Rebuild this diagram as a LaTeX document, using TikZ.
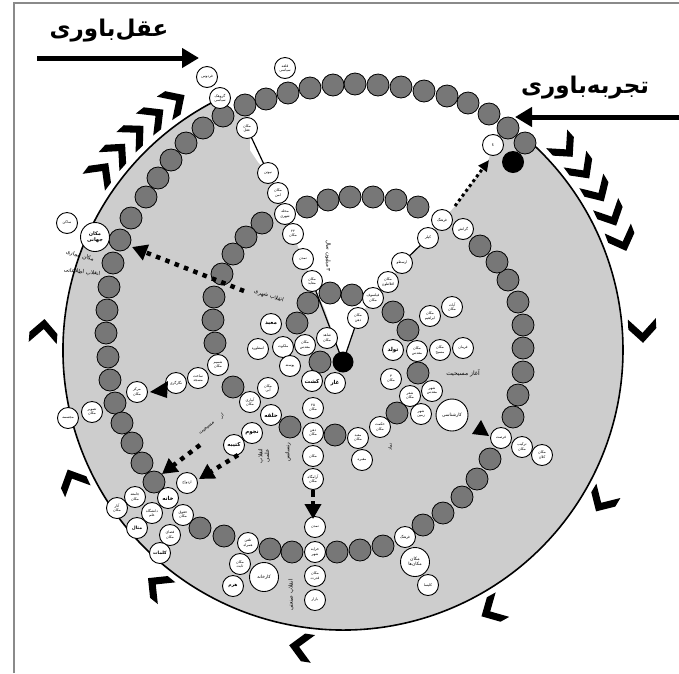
\documentclass[tikz,border=0pt]{standalone}
\usepackage{fontspec}
\newfontfamily\arfont[Script=Arabic]{DejaVu Sans}
\TeXXeTstate=1
\usetikzlibrary{arrows.meta}
\pgfdeclarelayer{back}
\pgfdeclarelayer{lines}
\pgfsetlayers{back,lines,main}
\definecolor{diskgray}{HTML}{CDCDCD}
\definecolor{beadgray}{HTML}{777777}
\definecolor{framegray}{HTML}{8A8A8A}
\newcommand\fa[1]{\beginR#1\endR}
\newcommand\fb[2]{\beginR#1\endR\\\beginR#2\endR}
\begin{document}
\begin{tikzpicture}[x=1pt,y=-1pt,
  bead/.style={circle,draw=black,line width=0.8pt,fill=beadgray,minimum size=22pt,inner sep=0pt},
  wc/.style={circle,draw=black,line width=0.9pt,fill=white,minimum size=21pt,inner sep=0pt,align=center,font=\arfont\fontsize{3.6}{4.2}\selectfont},
  wcb/.style={wc,font=\arfont\bfseries\fontsize{5.5}{6}\selectfont},
  wcl/.style={wc,minimum size=29pt,font=\arfont\fontsize{4.5}{5.2}\selectfont},
  lbl/.style={font=\arfont\fontsize{5.5}{6.5}\selectfont,inner sep=0pt,align=center},
  dotarrow/.style={line width=4.5pt,dash pattern=on 4.5pt off 5.5pt,-{Triangle[length=15pt,width=16pt]}},
  bigarrow/.style={line width=5pt,-{Triangle[length=17pt,width=19pt]}},
  spoke/.style={line width=1.2pt},
  blackdot/.style={circle,fill=black,minimum size=21pt,inner sep=0pt},
  title/.style={font=\arfont\bfseries\fontsize{23}{23}\selectfont,inner sep=0pt}]
\useasboundingbox (0,0) rectangle (679,673);

% frame
\draw[framegray,line width=1.5pt] (14,673) -- (14,3) -- (679,3);

% disk and white wedge
\begin{pgfonlayer}{back}
\fill[diskgray] (343,350) ++(242.2:280) arc[start angle=242.2,end angle=-46.9,radius=280]
  -- (525,143) -- (508,128) -- (489,114) -- (468,103) -- (447,96) -- (424,91) -- (401,87)
  -- (378,85) -- (355,84) -- (333,85) -- (310,88) -- (288,93) -- (266,99) -- (245,105) -- (223,116) -- cycle;
\fill[white] (250,100) -- (266,99) -- (288,93) -- (310,88) -- (333,85) -- (355,84) -- (378,85)
  -- (401,87) -- (424,91) -- (447,96) -- (468,103) -- (489,114) -- (500,125) -- (493,145)
  -- (488,161) -- (455,206) -- (442,220) -- (428,238) -- (402,263) -- (388,282) -- (373,298)
  -- (358,318) -- (343,362) -- (325,310) -- (312,281) -- (303,259) -- (293,234) -- (285,214)
  -- (278,193) -- (268,173) -- (258,162) -- (250,150) -- cycle;
\draw[line width=1.6pt] (343,350) ++(242.2:280) arc[start angle=242.2,end angle=-46.9,radius=280];
\end{pgfonlayer}

% chevrons
\foreach \t in {-143,-138.1,-133.2,-128.3,-123.4,-41.6,-36.4,-31.2,-26,-20.8,184.4,155,129,98.8,61,31,-2.9}
  \fill[shift={({343+300*cos(\t)},{350+300*sin(\t)})},rotate={-90-(\t)}]
    (-16,-14) -- (-6,-14) -- (8,0) -- (-6,14) -- (-16,14) -- (-2,0) -- cycle;

% titles and their arrows
\node[title] (t1) at (109,31) {\fa{عقل‌باوری}};
\node[title] (t2) at (585,88) {\fa{تجربه‌باوری}};
\coordinate (a1s) at (37,58); \coordinate (a1e) at (199,58);
\coordinate (a2s) at (679,117); \coordinate (a2e) at (515,117);
\draw[bigarrow] (a1s) -- (a1e);
\draw[bigarrow] (a2s) -- (a2e);

% spiral of beads
\foreach \p [count=\i] in {(525,143),(508,128),(489,114),(468,103),(447,96),(424,91),(401,87),(378,85),
  (355,84),(333,85),(310,88),(288,93),(266,99),(245,105),(223,116),(203,128),(186,143),(171,160),
  (158,178),(146,197),(131,218),(120,240),(113,263),(109,287),(107,310),(106,333),(108,357),(110,380),
  (115,403),(122,423),(132,443),(142,463),(154,482),(200,528),(224,536),(270,549),(292,552),(337,552),
  (360,550),(383,546),(423,525),(443,513),(462,497),(477,479),(490,459),(513,417),(518,395),(523,372),
  (523,348),(523,325),(518,302),(508,280),(497,262),(480,246),(418,207),(396,200),(373,197),(350,197),
  (328,200),(307,207),(262,223),(246,237),(233,254),(222,274),(214,297),(213,320),(215,343),(233,387),
  (290,427),(335,435),(397,413),(418,373),(408,330),(393,312),(352,295),(330,293),(308,303),(297,323),
  (320,362)}
  \node[bead] (b\i) at \p {};

\node[blackdot] (dot) at (343,362) {};
\node[blackdot,minimum size=22pt] (dot2) at (513,162) {};

% top and left spoke
\node[wc] (A1) at (207,77) {\fa{فردوس}};
\node[wc] (A2) at (220,98) {\fb{گروهک}{سیاسی}};
\node[wc] (A3) at (285,68) {\fb{قلعه}{سیاسی}};
\node[wc] (A4) at (247,128) {\fb{مکان}{عقل}};
\node[wc] (A5) at (268,173) {\fa{نیوتن}};
\node[wc] (A6) at (278,193) {\fb{مکان}{امن}};
\node[wc] (A7) at (285,214) {\fb{محله}{شهری}};
\node[wc] (A8) at (293,234) {\fb{۲۲}{مکان}};
\node[wc] (A9) at (303,259) {\fa{تمدن}};
\node[wc] (A10) at (312,281) {\fb{مکان}{معابد}};
% right spoke
\node[wc] (R1) at (493,145) {\fa{ع}};
\node[wc] (R2) at (442,220) {\fa{فرهنگ}};
\node[wc] (R3) at (463,229) {\fa{گرانش}};
\node[wc] (R4) at (428,238) {\fa{کپلر}};
\node[wc] (R5) at (402,263) {\fa{ارسطو}};
\node[wc] (R6) at (388,282) {\fb{مکان}{افلاطون}};
\node[wc] (R7) at (373,298) {\fb{فیلسوف}{مکان}};
\node[wc] (R8) at (358,318) {\fb{مکان}{ذهن}};
% centre
\node[wcb] (C1) at (271,324) {\fa{معبد}};
\node[wc] (C2) at (258,349) {\fa{اسطوره}};
\node[wc] (C3) at (283,347) {\fa{ملکوت}};
\node[wc] (C4) at (305,345) {\fb{مکان}{مقدس}};
\node[wc] (C5) at (327,338) {\fb{شاهد}{مکان}};
\node[wc] (C6) at (290,366) {\fa{پوسته}};
\node[wcb] (C7) at (312,381) {\fa{کشت}};
\node[wcb] (C8) at (335,383) {\fa{غار}};
\node[wc] (C9) at (268,388) {\fb{مکان}{آبی}};
\node[wc] (C10) at (250,402) {\fb{آبیاری}{مکان}};
\node[wcb] (C11) at (271,415) {\fa{حلقه}};
\node[wcb] (C12) at (252,433) {\fa{نجوم}};
\node[wcb] (C13) at (234,445) {\fa{کتیبه}};
\node[wc] (C14) at (218,365) {\fb{شمیم}{مکان}};
\node[wc] (C15) at (198,378) {\fb{ساخت}{مسجد}};
\node[wc] (C16) at (176,383) {\fa{نگارگری}};
\node[wc] (C17) at (137,392) {\fb{مرکز}{مکان}};
\node[wc] (C18) at (92,412) {\fb{تصویر}{مکان}};
\node[wc] (C19) at (68,418) {\fa{مجسمه}};
% left
\node[wc] (L1) at (67,223) {\fa{ساکن}};
\node[wcl,font=\arfont\bfseries\fontsize{5}{6}\selectfont] (L2) at (95,237) {\fb{مکان}{جهانی}};
% column
\node[wc] (D1) at (313,408) {\fb{۲۵}{مکان}};
\node[wc] (D2) at (313,433) {\fb{ذهن}{مکان}};
\node[wc] (D3) at (313,456) {\fa{مکان}};
\node[wc] (D4) at (313,479) {\fb{آرامگاه}{مکان}};
\node[wc] (D5) at (315,527) {\fa{تمدن}};
\node[wc] (D6) at (315,552) {\fb{خرابه}{شهر}};
\node[wc] (D7) at (315,576) {\fb{مکان}{قدرت}};
\node[wc] (D8) at (315,600) {\fa{بازار}};
% right centre
\node[wcb] (E1) at (393,350) {\fa{تولد}};
\node[wc] (E2) at (417,351) {\fb{مکان}{مقدس}};
\node[wc] (E3) at (440,350) {\fb{مکان}{مسیح}};
\node[wc] (E4) at (463,348) {\fa{فرمان}};
\node[wc] (E5) at (430,316) {\fb{مکان}{ابراهیم}};
\node[wc] (E6) at (452,307) {\fb{آیات}{مکان}};
\node[wc] (E7) at (391,379) {\fb{۳}{مکان}};
\node[wc] (E8) at (410,396) {\fb{شعر}{مکان}};
\node[wc] (E9) at (432,391) {\fb{شهر}{مقدس}};
\node[wc] (E10) at (421,414) {\fb{شهر}{زمین}};
\node[wc,minimum size=32pt,font=\arfont\fontsize{4.5}{5}\selectfont] (E11) at (452,415) {\fa{کارشناسی}};
\node[wc] (E12) at (380,427) {\fb{حکمت}{مکان}};
\node[wc] (E13) at (358,438) {\fb{معبد}{مکان}};
\node[wc] (E14) at (362,460) {\fa{مقبره}};
% right
\node[wc] (F1) at (501,438) {\fa{فرصت}};
\node[wc] (F2) at (522,447) {\fb{ترکیب}{مکان}};
\node[wc] (F3) at (542,455) {\fb{مکان}{کلان}};
% bottom
\node[wc] (G1) at (248,543) {\fb{تلفن}{همراه}};
\node[wc] (G2) at (240,564) {\fb{مکان}{ثابت}};
\node[wcl] (G3) at (264,577) {\fa{کارخانه}};
\node[wcb,font=\arfont\bfseries\fontsize{4.5}{5}\selectfont] (G4) at (233,586) {\fa{هرم}};
\node[wc] (G5) at (405,537) {\fa{فرهنگ}};
\node[wcl] (G6) at (415,562) {\fb{مکان}{مکان‌ها}};
\node[wc] (G7) at (428,585) {\fa{کلیسا}};
% bottom left
\node[wc] (H1) at (187,483) {\fa{ازدواج}};
\node[wcb] (H2) at (168,498) {\fa{خانه}};
\node[wc] (H3) at (135,497) {\fb{جامعه}{مکان}};
\node[wc] (H4) at (117,508) {\fb{آثار}{مکان}};
\node[wc] (H5) at (152,513) {\fb{دانشگاه}{علم}};
\node[wc] (H6) at (183,515) {\fb{حقوق}{مکان}};
\node[wcb,font=\arfont\bfseries\fontsize{4.5}{5}\selectfont] (H7) at (137,528) {\fa{مثال}};
\node[wc] (H8) at (170,535) {\fb{فضای}{مکان}};
\node[wcb,font=\arfont\bfseries\fontsize{4.5}{5}\selectfont] (H9) at (160,553) {\fa{کلمات}};

% spoke lines
\begin{pgfonlayer}{lines}
\draw[spoke] (A4.center) -- (A5.center);
\draw[spoke] (A10.center) -- (dot.center);
\draw[spoke] (R8.center) -- (dot.center);
\draw[spoke] (R5.center) -- (R4.center);
\end{pgfonlayer}

% labels
\node[lbl,rotate=-14] (lm1) at (80,256) {\fa{مکان مجازی}};
\node[lbl,rotate=-6] (lm2) at (82,272) {\fa{انقلاب اطلاعاتی}};
\node[lbl,rotate=-17] (lsh) at (269,296) {\fa{انقلاب شهری}};
\node[lbl,rotate=38,font=\arfont\fontsize{5}{6}\selectfont] (lmasa) at (207,428) {\fa{مسیحیت}};
\node[lbl,rotate=38,font=\arfont\fontsize{5}{6}\selectfont] (lmasb) at (222,416) {\fa{از}};
\node[lbl,font=\arfont\fontsize{6}{7}\selectfont] (laz) at (463,373) {\fa{آغاز مسیحیت}};
\node[lbl,rotate=90] (lel) at (264,456) {\fb{انقلاب}{علمی}};
\node[lbl,rotate=90] (lren) at (288,452) {\fa{رنسانس}};
\node[lbl,rotate=90] (lsan) at (291,595) {\fa{انقلاب صنعتی}};
\node[lbl,rotate=-90] (lmil) at (328,256) {\fa{۳ میلیون سال}};
\node[lbl,rotate=90,font=\arfont\fontsize{4.5}{5}\selectfont] (lnm) at (390,447) {\fa{نماد}};

% dotted arrows
\coordinate (d1s) at (244,291); \coordinate (d1e) at (132,247);
\coordinate (d2s) at (200,445); \coordinate (d2e) at (162,474);
\coordinate (d3s) at (238,455); \coordinate (d3e) at (199,479);
\coordinate (d4s) at (455,206); \coordinate (d4e) at (489,160);
\coordinate (d5s) at (313,490); \coordinate (d5e) at (313,519);
\draw[dotarrow] (d1s) -- (d1e);
\draw[dotarrow] (d2s) -- (d2e);
\draw[dotarrow] (d3s) -- (d3e);
\draw[dotarrow,line width=3pt,dash pattern=on 3pt off 3pt,-{Triangle[length=11pt,width=10pt]}] (d4s) -- (d4e);
\draw[dotarrow,dash pattern=on 7pt off 4pt,-{Triangle[length=15pt,width=16pt]}] (d5s) -- (d5e);

% solid arrowheads
\fill (168,381) -- (167,398) -- (150,392) -- cycle;
\fill (472,434) -- (489,436) -- (481,420) -- cycle;
\end{tikzpicture}
\end{document}
